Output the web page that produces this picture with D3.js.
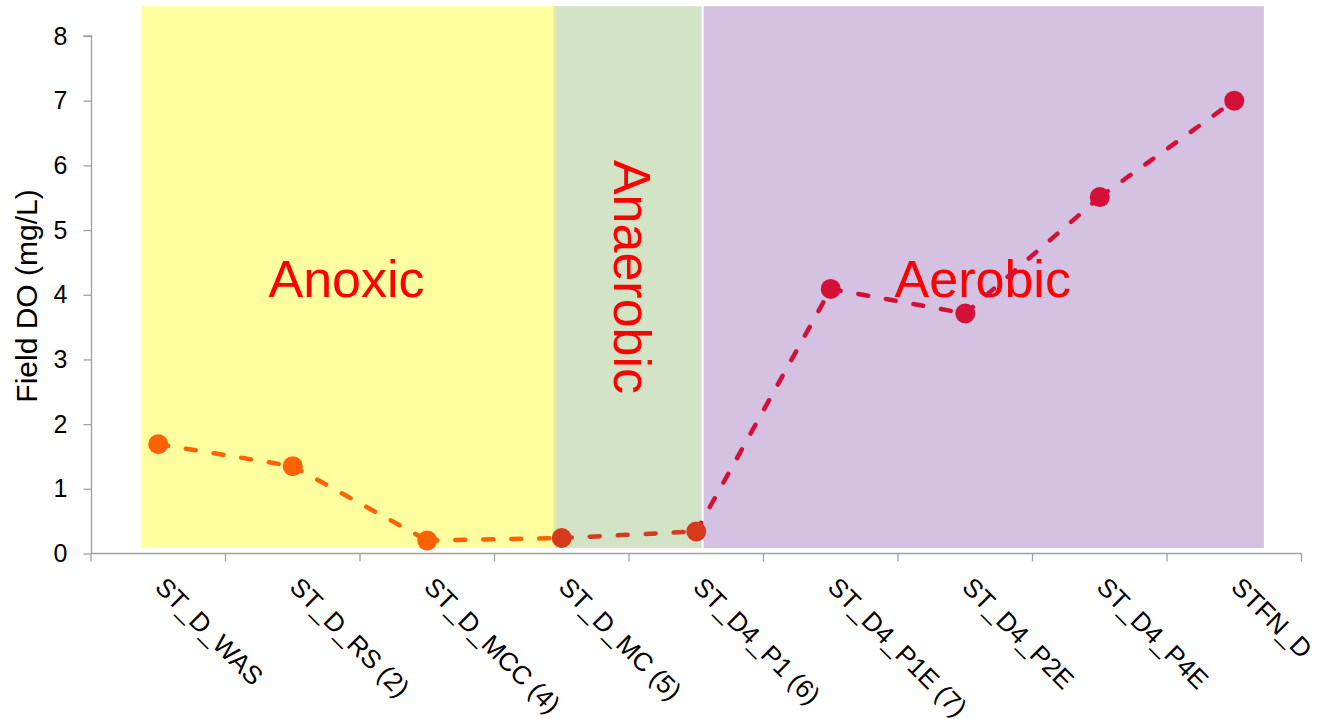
<!DOCTYPE html>
<html>
<head>
<meta charset="utf-8">
<script src="https://cdn.jsdelivr.net/npm/d3@7"></script>
<style>
  html, body { margin: 0; padding: 0; background: #fff; }
  svg { display: block; font-family: "Liberation Sans", Arial, sans-serif; }
</style>
</head>
<body>
<svg id="chart" width="1320" height="719"></svg>
<script>
// ---- data ----
const categories = ["ST_D_WAS", "ST_D_RS (2)", "ST_D_MCC (4)", "ST_D_MC (5)", "ST_D4_P1 (6)", "ST_D4_P1E (7)", "ST_D4_P2E", "ST_D4_P4E", "STFN_D"];
const doValues = [1.69, 1.35, 0.20, 0.24, 0.34, 4.09, 3.71, 5.51, 7.00];
const pointGroup = ["anoxic", "anoxic", "anoxic", "mid", "mid", "aerobic", "aerobic", "aerobic", "aerobic"];
const segmentGroup = ["anoxic", "anoxic", "anoxic", "mid", "aerobic", "aerobic", "aerobic", "aerobic"];
const yTicks = [0, 1, 2, 3, 4, 5, 6, 7, 8];
const zoneNames = ["Anoxic", "Anaerobic", "Aerobic"];
// zone extents in category-index units (continuous), and value units
const zoneStart = [-0.125, 2.94, 4.055];
const zoneEnd = [2.955, 4.04, 8.22];
const zoneTop = 8.46;
const zoneBottom = 0.085;

// ---- styles ----
const groupColor = { anoxic: "#ff6205", mid: "#d63a1d", aerobic: "#d51038" };
const zoneFill = ["#ffff9f", "#d3e3c5", "#d5c1e2"];

const svg = d3.select("#chart");

const x = d3.scaleBand().domain(categories).range([91, 1301.5]).padding(0);
const step = x.step();
const xc = d => x(d) + step / 2;
const xi = d3.scaleLinear().domain([0, 1]).range([xc(categories[0]), xc(categories[1])]);
const y = d3.scaleLinear().domain([0, 8]).range([553.5, 36]);

// ---- zone rectangles ----
const zones = zoneNames.map((n, i) => ({ name: n, s: zoneStart[i], e: zoneEnd[i], fill: zoneFill[i] }));
svg.append("g").selectAll("rect").data(zones).join("rect")
  .attr("x", d => xi(d.s))
  .attr("y", y(zoneTop))
  .attr("width", d => xi(d.e) - xi(d.s))
  .attr("height", y(zoneBottom) - y(zoneTop))
  .attr("fill", d => d.fill);
// slight overlap strip between anoxic and anaerobic zones
svg.append("rect")
  .attr("x", xi(zoneStart[1])).attr("y", y(zoneTop))
  .attr("width", xi(zoneEnd[0]) - xi(zoneStart[1]))
  .attr("height", y(zoneBottom) - y(zoneTop))
  .attr("fill", "#e6ef92");

// ---- zone labels ----
const lbl = svg.append("g").attr("fill", "#ff0000").attr("font-size", 52);
lbl.append("text").attr("x", xi((zoneStart[0] + zoneEnd[0]) / 2) - 2).attr("y", 297)
  .attr("text-anchor", "middle").text(zoneNames[0]);
lbl.append("text").attr("x", xi(6.13)).attr("y", 297)
  .attr("text-anchor", "middle").text(zoneNames[2]);
lbl.append("text")
  .attr("transform", `translate(${xi((zoneStart[1] + zoneEnd[1]) / 2) - 14},277) rotate(90)`)
  .attr("text-anchor", "middle").text(zoneNames[1]);

// ---- axes ----
const axisColor = "#a0a0a0";
const yAxis = svg.append("g").attr("transform", "translate(91.5,0)")
  .call(d3.axisLeft(y).tickValues(yTicks).tickSize(8).tickFormat(d3.format("d")));
yAxis.select(".domain").attr("stroke", axisColor).attr("stroke-width", 1.3).attr("d", `M-8,${y(8)}H0V${y(0)}`);
yAxis.selectAll(".tick line").attr("stroke", axisColor).attr("stroke-width", 1.3);
yAxis.selectAll(".tick text").attr("font-size", 25).attr("fill", "#000").attr("x", -24)
  .attr("font-family", "Liberation Sans, Arial, sans-serif");

const xAxisG = svg.append("g").attr("transform", `translate(0,${y(0)})`);
xAxisG.append("line").attr("x1", x.range()[0]).attr("x2", x.range()[1])
  .attr("stroke", axisColor).attr("stroke-width", 1.3);
const bounds = categories.map(c => x(c)).concat([x(categories[categories.length - 1]) + step]);
xAxisG.selectAll("line.tk").data(bounds).join("line").attr("class", "tk")
  .attr("x1", d => d).attr("x2", d => d).attr("y1", 0).attr("y2", 8)
  .attr("stroke", axisColor).attr("stroke-width", 1.3);
svg.append("g").selectAll("text").data(categories).join("text")
  .attr("transform", d => `translate(${xc(d) - 4.5},588.5) rotate(45)`)
  .attr("font-size", 26).attr("fill", "#000")
  .text(d => d);

// ---- y axis title ----
svg.append("text")
  .attr("transform", "translate(37,296) rotate(-90)")
  .attr("text-anchor", "middle").attr("font-size", 30).attr("fill", "#000")
  .text("Field DO (mg/L)");

// ---- line segments ----
const pts = categories.map((c, i) => ({ c, v: doValues[i], g: pointGroup[i] }));
const segs = d3.pairs(pts).map((p, i) => ({ a: p[0], b: p[1], g: segmentGroup[i] }));
svg.append("g").selectAll("line").data(segs).join("line")
  .attr("x1", d => xc(d.a.c)).attr("y1", d => y(d.a.v))
  .attr("x2", d => xc(d.b.c)).attr("y2", d => y(d.b.v))
  .attr("stroke", d => groupColor[d.g])
  .attr("stroke-width", 4.5)
  .attr("stroke-linecap", "round")
  .attr("stroke-dasharray", "10 18");

// ---- markers ----
svg.append("g").selectAll("circle").data(pts).join("circle")
  .attr("cx", d => xc(d.c)).attr("cy", d => y(d.v)).attr("r", 10)
  .attr("fill", d => groupColor[d.g]);
</script>
</body>
</html>
